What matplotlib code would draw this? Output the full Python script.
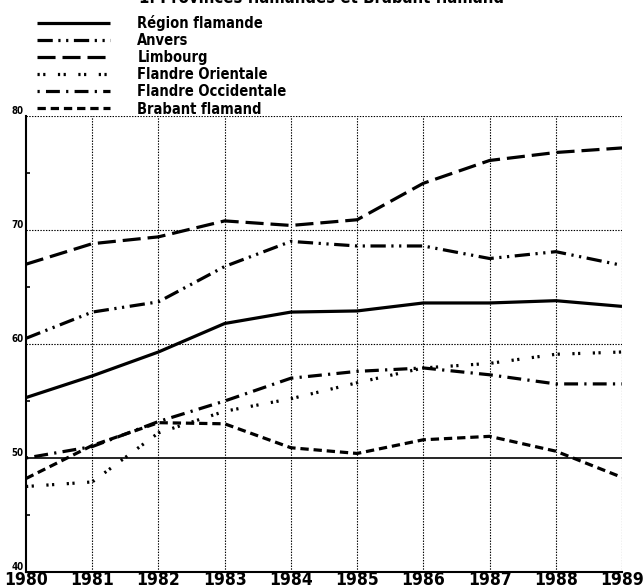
import numpy as np
import matplotlib
matplotlib.use('Agg')
import matplotlib.pyplot as plt

plt.rcParams['font.family'] = ['DejaVu Sans']
plt.rcParams['font.stretch'] = 'condensed'
plt.rcParams['lines.scale_dashes'] = False

years = [1980, 1981, 1982, 1983, 1984, 1985, 1986, 1987, 1988, 1989]

region_flamande = [55.3, 57.2, 59.3, 61.8, 62.8, 62.9, 63.6, 63.6, 63.8, 63.3]
anvers = [60.5, 62.8, 63.7, 66.8, 69.0, 68.6, 68.6, 67.5, 68.1, 66.9]
limbourg = [67.0, 68.8, 69.4, 70.8, 70.4, 70.9, 74.1, 76.1, 76.8, 77.2]
flandre_orientale = [47.5, 47.9, 52.2, 54.1, 55.2, 56.6, 57.9, 58.3, 59.1, 59.3]
flandre_occidentale = [50.0, 51.0, 53.2, 55.0, 57.0, 57.6, 57.9, 57.3, 56.5, 56.5]
brabant_flamand = [48.2, 51.1, 53.1, 53.0, 50.9, 50.4, 51.6, 51.9, 50.6, 48.3]

labels = ['Région flamande', 'Anvers', 'Limbourg', 'Flandre Orientale',
          'Flandre Occidentale', 'Brabant flamand']
series = [region_flamande, anvers, limbourg, flandre_orientale,
          flandre_occidentale, brabant_flamand]
styles = ['-',
          (0, (11, 4, 1.6, 4, 1.6, 4)),
          (0, (13, 5)),
          (0, (1.6, 2.5, 1.6, 9)),
          (0, (1.6, 4.5, 10, 4.5)),
          (0, (6, 3.5))]

fig = plt.figure(figsize=(6.43, 5.88), dpi=100)
ax = fig.add_axes([0.0404, 0.0272, 0.927, 0.7755])

handles = []
for vals, ls, lab in zip(series, styles, labels):
    h, = ax.plot(years, vals, color='black', lw=2.3, linestyle=ls,
                 solid_capstyle='butt', dash_capstyle='butt', label=lab)
    handles.append(h)

ax.set_xlim(1980, 1989)
ax.set_ylim(40, 80)

# grid
for yr in years[1:]:
    ax.axvline(yr, color='black', lw=0.8, linestyle=(0, (1, 1)), zorder=0)
for v in [60, 70, 80]:
    ax.axhline(v, color='black', lw=0.8, linestyle=(0, (1, 1)), zorder=0)
ax.axhline(50, color='black', lw=1.2, zorder=0)

ax.spines['top'].set_visible(False)
ax.spines['right'].set_visible(False)
ax.spines['left'].set_linewidth(1.5)
ax.spines['bottom'].set_linewidth(1.5)

ax.set_xticks(years)
ax.set_xticklabels([str(y) for y in years], fontsize=12.5, fontweight='bold')
ax.set_yticks([40, 50, 60, 70, 80])
ax.set_yticklabels(['40', '50', '60', '70', '80'], fontsize=7, fontweight='bold')
ax.set_yticks([45, 55, 65, 75], minor=True)
ax.tick_params(axis='x', length=0, pad=-1)
ax.tick_params(axis='y', which='major', length=0, pad=2)
ax.tick_params(axis='y', which='minor', direction='in', length=3, width=1.2)
for lab in ax.get_yticklabels():
    lab.set_verticalalignment('bottom')

fig.legend(handles=handles, loc='upper left', bbox_to_anchor=(0.048, 0.985),
           frameon=False, handlelength=5.0, handletextpad=1.9,
           labelspacing=0.15, borderaxespad=0,
           prop={'weight': 'bold', 'size': 10.5, 'stretch': 'condensed'})

fig.text(0.5, 1.004, '1. Provinces flamandes et Brabant flamand', ha='center',
         va='center', fontsize=12, fontweight='bold')

fig.savefig('out.png', dpi=100)
